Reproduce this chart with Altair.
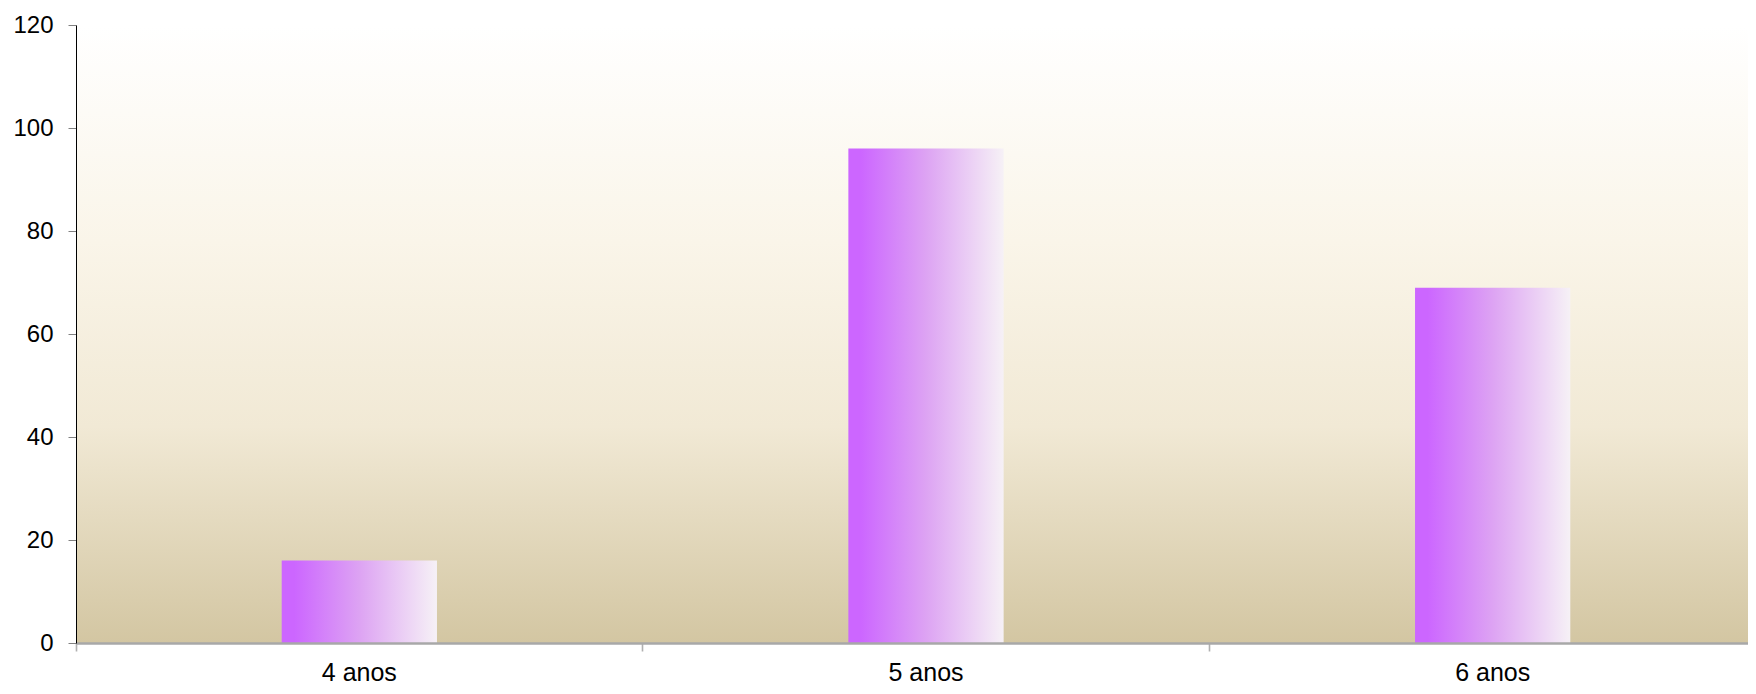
import altair as alt
import pandas as pd

categories = ["4 anos", "5 anos", "6 anos"]
values = [16, 96, 69]
y_ticks = [0, 20, 40, 60, 80, 100, 120]

df = pd.DataFrame({"cat": categories, "val": values})

W, H = 1672, 618
XR = 1700

bg_grad = alt.Gradient(
    gradient="linear", x1=0, x2=0, y1=0, y2=1,
    stops=[
        alt.GradientStop(color="#FFFFFF", offset=0),
        alt.GradientStop(color="#FAF5E9", offset=0.35),
        alt.GradientStop(color="#F1E9D5", offset=0.65),
        alt.GradientStop(color="#D3C6A2", offset=1),
    ],
)
bar_grad = alt.Gradient(
    gradient="linear", x1=0, x2=1, y1=0, y2=0,
    stops=[
        alt.GradientStop(color="#CC66FF", offset=0),
        alt.GradientStop(color="#CC66FF", offset=0.08),
        alt.GradientStop(color="#DDA3F3", offset=0.5),
        alt.GradientStop(color="#F6F1F6", offset=1),
    ],
)

bg = alt.Chart(alt.Data(values=[{"a": 1}])).mark_rect(fill=bg_grad).encode(
    x=alt.value(0), x2=alt.value(XR), y=alt.value(0), y2=alt.value(H)
)

bars = alt.Chart(df).mark_bar(fill=bar_grad, width={"band": 0.274}).encode(
    x=alt.X("cat:N", sort=categories,
            scale=alt.Scale(range=[0, XR], paddingInner=0, paddingOuter=0),
            axis=alt.Axis(title=None, labelAngle=0, bandPosition=0, zindex=1,
                          domainColor="#A8A8A8", domainWidth=2.3,
                          tickColor="#B0B0B0", tickSize=8, tickWidth=1.6,
                          labelPadding=9.5, labelFontSize=25,
                          labelFont="Liberation Sans", labelColor="#000000")),
    y=alt.Y("val:Q", scale=alt.Scale(domain=[0, 120], nice=False),
            axis=alt.Axis(title=None, values=y_ticks, grid=False, zindex=1,
                          domainColor="#000000", domainWidth=1,
                          tickColor="#808080", tickSize=8,
                          labelPadding=15, labelFontSize=24,
                          labelFont="Liberation Sans", labelColor="#000000")),
)

chart = alt.layer(bg, bars).properties(
    width=W, height=H,
    autosize=alt.AutoSizeParams(type="none"),
    padding={"left": 68, "top": 17, "right": 0, "bottom": 43},
).configure_view(stroke=None)

chart.save("out.html", embed_options={"renderer": "svg", "actions": False})
